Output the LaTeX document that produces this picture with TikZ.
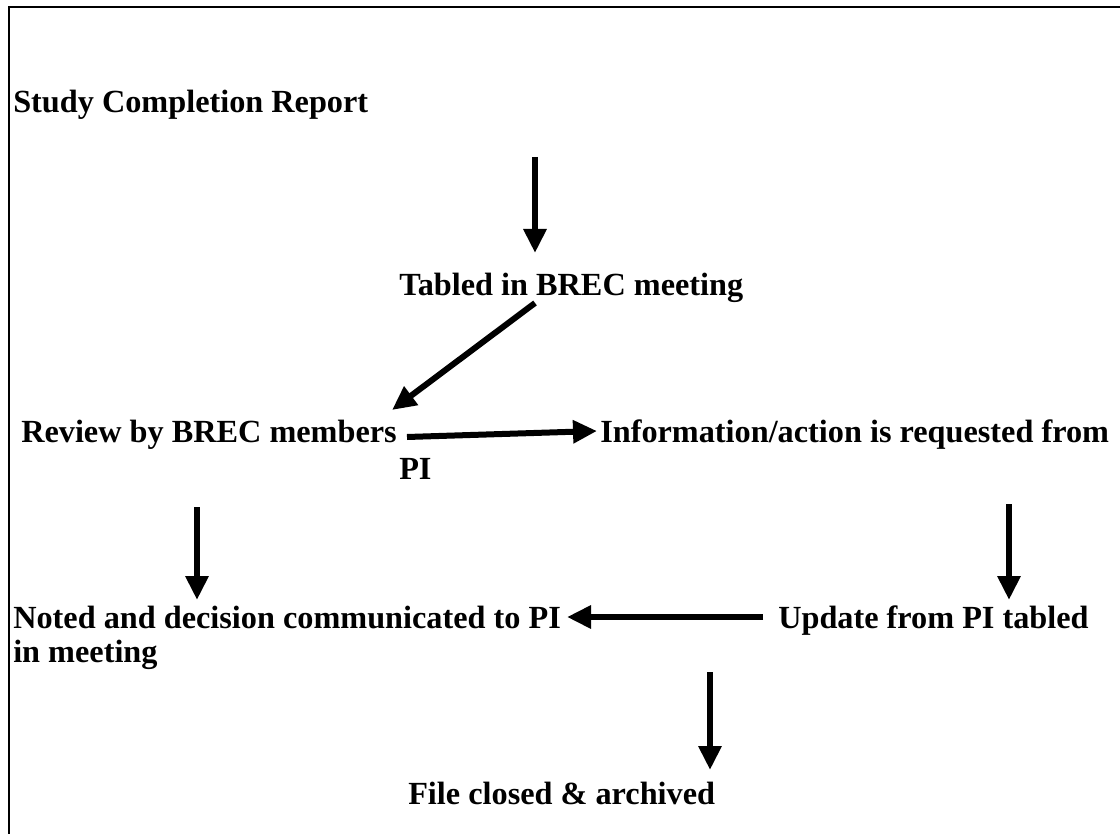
\documentclass[tikz,border=0pt]{standalone}
\usepackage{fontspec}
\setmainfont{Liberation Serif}
\usetikzlibrary{arrows.meta}

\begin{document}
\begin{tikzpicture}[x=0.75pt,y=-0.75pt,
    lbl/.style={anchor=base west, inner sep=0pt, font=\fontsize{24.2}{28}\selectfont\bfseries},
    flow/.style={line width=4.5pt, -{Triangle[length=18pt,width=16.5pt]}}]

    % page size and frame (only top and left edges show)
    \useasboundingbox (0,0) rectangle (1120,834);
    \draw[line width=1.5pt] (9,834) -- (9,7) -- (1120,7);

    % Text of the steps
    \node[lbl] (study)  at (13,113)  {Study Completion Report};
    \node[lbl] (tabled) at (399,295) {Tabled in BREC meeting};
    \node[lbl] (review) at (21,442)  {Review by BREC members};
    \node[lbl] (info)   at (600,442) {Information/action is requested from};
    \node[lbl] (infopi) at (399,479) {PI};
    \node[lbl] (noted)  at (13,628)  {Noted and decision communicated to PI};
    \node[lbl] (noted2) at (13,662)  {in meeting};
    \node[lbl] (update) at (778,628) {Update from PI tabled};
    \node[lbl] (closed) at (408,804) {File closed \& archived};

    % Arrow end points
    \coordinate (a1s) at (535,157);  \coordinate (a1e) at (535,253);
    \coordinate (a2s) at (535,303);  \coordinate (a2e) at (392,410);
    \coordinate (a3s) at (407,437);  \coordinate (a3e) at (597,431);
    \coordinate (a4s) at (197,507);  \coordinate (a4e) at (197,600);
    \coordinate (a5s) at (1009,504); \coordinate (a5e) at (1009,600);
    \coordinate (a6s) at (763,617);  \coordinate (a6e) at (567,617);
    \coordinate (a7s) at (710,672);  \coordinate (a7e) at (710,770);

    % Draw the arrows
    \draw[flow] (a1s) -- (a1e);
    \draw[flow] (a2s) -- (a2e);
    \draw[flow] (a3s) -- (a3e);
    \draw[flow] (a4s) -- (a4e);
    \draw[flow] (a5s) -- (a5e);
    \draw[flow] (a6s) -- (a6e);
    \draw[flow] (a7s) -- (a7e);

\end{tikzpicture}
\end{document}
